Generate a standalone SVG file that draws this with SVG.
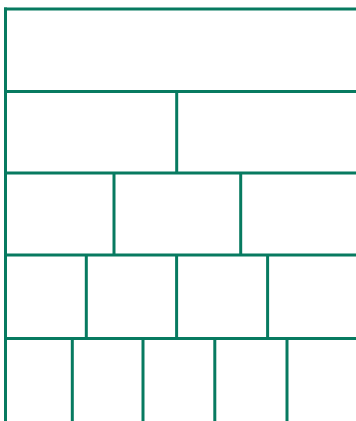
<svg xmlns="http://www.w3.org/2000/svg" width="356" height="421" viewBox="0 0 356 421">
<style>
line{stroke:#077a60;stroke-width:3;stroke-linecap:butt}
</style>
<rect width="356" height="421" fill="#ffffff"/>
<g id="frame">
<line x1="5.5" y1="7.5" x2="5.5" y2="421"/>
<line x1="4" y1="9" x2="356" y2="9"/>
<line x1="4" y1="91.5" x2="356" y2="91.5"/>
<line x1="4" y1="173" x2="356" y2="173"/>
<line x1="4" y1="255" x2="356" y2="255"/>
<line x1="4" y1="338.5" x2="356" y2="338.5"/>
</g>
<g id="row2">
<line x1="176.7" y1="91.5" x2="176.7" y2="173"/>
</g>
<g id="row3">
<line x1="114" y1="173" x2="114" y2="255"/>
<line x1="240.7" y1="173" x2="240.7" y2="255"/>
</g>
<g id="row4">
<line x1="86.3" y1="255" x2="86.3" y2="338.5"/>
<line x1="176.6" y1="255" x2="176.6" y2="338.5"/>
<line x1="267.6" y1="255" x2="267.6" y2="338.5"/>
</g>
<g id="row5">
<line x1="72.3" y1="338.5" x2="72.3" y2="421"/>
<line x1="143" y1="338.5" x2="143" y2="421"/>
<line x1="214.8" y1="338.5" x2="214.8" y2="421"/>
<line x1="287" y1="338.5" x2="287" y2="421"/>
</g>
</svg>
